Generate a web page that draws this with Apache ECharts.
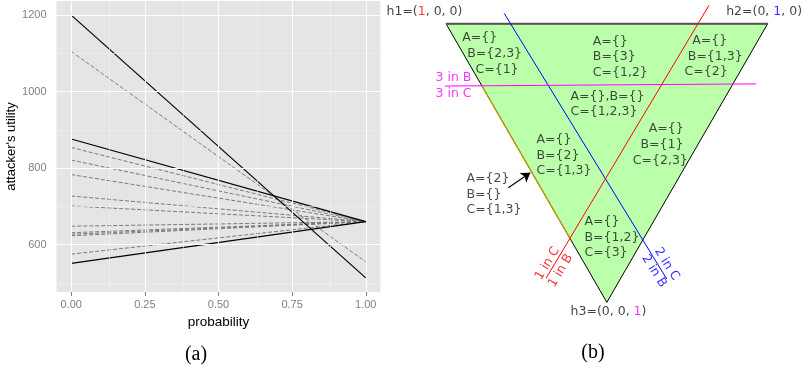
<!DOCTYPE html>
<html><head><meta charset="utf-8">
<script src="https://cdn.jsdelivr.net/npm/echarts@6/dist/echarts.min.js"></script>
<style>html,body{margin:0;padding:0;background:#fff}#c{width:803px;height:368px}</style>
</head><body><div id="c"></div>
<script>
// ---------- (a) attacker's utility vs probability ----------
const probability = [0, 1];
const solidAt0 = [1200, 876, 551];
const solidAt1 = [513, 660, 660];
const dashedAt0 = [1105, 854, 821, 783, 727, 701, 648, 631, 627, 623, 575];
const dashedAt1 = [555, 660, 660, 660, 660, 660, 660, 660, 660, 660, 660];
const xTicks = [0, 0.25, 0.5, 0.75, 1];
const xMinor = [0.125, 0.375, 0.625, 0.875];
const yTicks = [600, 800, 1000, 1200];
const yMinor = [500, 700, 900, 1100];

// ---------- (b) triangle diagram (u along h1->h2, v from h3=0 to top=1) ----------
const triangle = [[0, 1], [1, 1], [0.5, 0]];
const blueLine = [[0.181, 1.037], [0.686, 0.084]];
const redLine = [[0.8175, 1.066], [0.311, 0.086]];
const magentaLine = [[-0.029, 0.776], [0.9636, 0.784]];
const oliveEdge = [[0.112, 0.776], [0.387, 0.226]];
const arrowLine = [[0.1937, 0.411], [0.262, 0.465]];
const regionLabels = [
  [0.0488, 0.9487, 'A={}'], [0.0644, 0.8938, 'B={2,3}'], [0.0901, 0.8338, 'C={1}'],
  [0.4548, 0.9354, 'A={}'], [0.4548, 0.8815, 'B={3}'], [0.4548, 0.8241, 'C={1,2}'],
  [0.7638, 0.9379, 'A={}'], [0.7501, 0.8805, 'B={1,3}'], [0.7399, 0.8266, 'C={2}'],
  [0.3855, 0.7380, 'A={},B={}'], [0.3855, 0.6841, 'C={1,2,3}'],
  [0.6289, 0.6220, 'A={}'], [0.6030, 0.5646, 'B={1}'], [0.5791, 0.5072, 'C={2,3}'],
  [0.2798, 0.5822, 'A={}'], [0.2798, 0.5276, 'B={2}'], [0.2798, 0.4713, 'C={1,3}'],
  [0.0622, 0.4426, 'A={2}'], [0.0622, 0.3877, 'B={}'], [0.0622, 0.3338, 'C={1,3}'],
  [0.4290, 0.2893, 'A={}'], [0.4290, 0.2333, 'B={1,2}'], [0.4290, 0.1780, 'C={3}']
];
const vertexLabels = [
  [-0.1865, 1.042, 'h1=(', '1', ', 0, 0)', 'r'],
  [0.8694, 1.042, 'h2=(0, ', '1', ', 0)', 'b'],
  [0.3856, -0.0337, 'h3=(0, 0, ', '1', ')', 'm']
];
const magentaLabels = [[-0.0342, 0.8062, '3 in B'], [-0.0342, 0.7477, '3 in C']];
const redLabels = [[0.3155, 0.1393, '1 in C'], [0.3565, 0.1134, '1 in B']];
const blueLabels = [[0.6861, 0.1375, '2 in C'], [0.6466, 0.1123, '2 in B']];

const chart = echarts.init(document.getElementById('c'), null, {renderer: 'canvas'});

const SANS = 'Liberation Sans';
const DIAG = 'DejaVu Sans';
const tickGray = '#7f7f7f';

function seg(a, b) { return probability.map((p, i) => [p, i === 0 ? a : b]); }

const series = [];
series.push({
  type: 'line', xAxisIndex: 0, yAxisIndex: 0, data: [], z: 1, silent: true,
  markLine: {
    silent: true, symbol: ['none', 'none'], animation: false, label: {show: false},
    data: []
      .concat(xMinor.map(v => ({xAxis: v, lineStyle: {color: '#f2f2f2', width: 0.6, type: 'solid'}})))
      .concat(yMinor.map(v => ({yAxis: v, lineStyle: {color: '#f2f2f2', width: 0.6, type: 'solid'}})))
      .concat(xTicks.map(v => ({xAxis: v, lineStyle: {color: '#ffffff', width: 1.1, type: 'solid'}})))
      .concat(yTicks.map(v => ({yAxis: v, lineStyle: {color: '#ffffff', width: 1.1, type: 'solid'}})))
  }
});
dashedAt0.forEach((v, i) => series.push({
  type: 'line', xAxisIndex: 0, yAxisIndex: 0, data: seg(v, dashedAt1[i]), z: 3,
  showSymbol: false, symbol: 'none', silent: true,
  lineStyle: {color: '#7a7a7a', width: 1, type: [4, 2]}
}));
solidAt0.forEach((v, i) => series.push({
  type: 'line', xAxisIndex: 0, yAxisIndex: 0, data: seg(v, solidAt1[i]), z: 4,
  showSymbol: false, symbol: 'none', silent: true,
  lineStyle: {color: '#000000', width: 1.2, type: 'solid'}
}));

// ---------- diagram ----------
series.push({
  type: 'custom', xAxisIndex: 1, yAxisIndex: 1, data: [[0.5, 0.5]], z: 2, silent: true, clip: false,
  renderItem: function (params, api) {
    return {
      type: 'polygon',
      shape: {points: triangle.map(p => api.coord(p))},
      style: {fill: '#bbffaa', stroke: '#000', lineWidth: 1}
    };
  }
});
function diagLine(pts, color, width, z) {
  return {
    type: 'line', xAxisIndex: 1, yAxisIndex: 1, data: pts, z: z || 5, clip: false,
    showSymbol: false, symbol: 'none', silent: true,
    lineStyle: {color: color, width: width || 1}
  };
}
series.push(diagLine([triangle[0], triangle[1]], '#555555', 2, 4));
series.push(diagLine(oliveEdge, '#c8a000', 1.2, 4));
series.push(diagLine(blueLine, '#0000ff', 1));
series.push(diagLine(redLine, '#ff0000', 1));
series.push(diagLine(magentaLine, '#ff00ff', 1));
series.push({
  type: 'line', xAxisIndex: 1, yAxisIndex: 1, data: [], z: 6, silent: true,
  markLine: {
    silent: true, animation: false, symbol: ['none', 'arrow'], symbolSize: 9,
    label: {show: false},
    lineStyle: {color: '#000', width: 1.2, type: 'solid'},
    data: [[{coord: arrowLine[0]}, {coord: arrowLine[1]}]]
  }
});
function textSeries(list, labelOpt) {
  return {
    type: 'scatter', xAxisIndex: 1, yAxisIndex: 1, z: 8, silent: true, clip: false,
    symbolSize: 1, itemStyle: {color: 'rgba(0,0,0,0)'},
    data: list.map(d => ({value: [d[0], d[1]], name: d[2]})),
    label: Object.assign({
      show: true, position: 'right', distance: 0,
      fontFamily: DIAG, fontSize: 12.5, color: '#1a1a1a',
      formatter: p => p.name
    }, labelOpt || {})
  };
}
series.push(textSeries(regionLabels));
series.push(textSeries(magentaLabels, {color: '#ff00ff'}));
series.push(textSeries(redLabels, {color: '#ff0000', position: 'inside', rotate: 59, align: 'center', verticalAlign: 'middle'}));
series.push(textSeries(blueLabels, {color: '#0000ff', position: 'inside', rotate: -58, align: 'center', verticalAlign: 'middle'}));
series.push({
  type: 'scatter', xAxisIndex: 1, yAxisIndex: 1, z: 8, silent: true, clip: false,
  symbolSize: 1, itemStyle: {color: 'rgba(0,0,0,0)'},
  data: vertexLabels.map(d => ({value: [d[0], d[1]], name: d[2] + '{' + d[5] + '|' + d[3] + '}' + d[4]})),
  label: {
    show: true, position: 'right', distance: 0,
    fontFamily: DIAG, fontSize: 12.5, color: '#111',
    formatter: p => p.name,
    rich: {
      r: {color: '#ff0000', fontFamily: DIAG, fontSize: 12.5},
      b: {color: '#0000ff', fontFamily: DIAG, fontSize: 12.5},
      m: {color: '#ff00ff', fontFamily: DIAG, fontSize: 12.5}
    }
  }
});

const option = {
  animation: false,
  backgroundColor: '#ffffff',
  grid: [
    {left: 56.5, top: 1, width: 324, height: 291, show: true, backgroundColor: '#e5e5e5', borderWidth: 0, containLabel: false, outerBoundsMode: 'none'},
    {left: 446, top: 23.7, width: 321.7, height: 278.6, show: false, containLabel: false, outerBoundsMode: 'none'}
  ],
  xAxis: [
    {
      type: 'value', gridIndex: 0, min: -0.05, max: 1.05,
      name: 'probability', nameLocation: 'middle', nameGap: 17,
      nameTextStyle: {fontFamily: SANS, fontSize: 13.5, color: '#000'},
      axisLine: {show: false},
      axisTick: {show: true, length: 4, lineStyle: {color: tickGray, width: 1}, customValues: xTicks},
      axisLabel: {show: true, customValues: xTicks, margin: 7, fontFamily: SANS, fontSize: 11, color: tickGray,
        formatter: v => v.toFixed(2)},
      splitLine: {show: false}
    },
    {type: 'value', gridIndex: 1, min: 0, max: 1, show: false}
  ],
  yAxis: [
    {
      type: 'value', gridIndex: 0, min: 476, max: 1237,
      name: "attacker's utility", nameLocation: 'middle', nameGap: 30,
      nameTextStyle: {fontFamily: SANS, fontSize: 13, color: '#000'},
      axisLine: {show: false},
      axisTick: {show: true, length: 4, lineStyle: {color: tickGray, width: 1}, customValues: yTicks},
      axisLabel: {show: true, customValues: yTicks, margin: 10, fontFamily: SANS, fontSize: 11, color: tickGray,
        formatter: v => String(v)},
      splitLine: {show: false}
    },
    {type: 'value', gridIndex: 1, min: 0, max: 1, show: false}
  ],
  graphic: [
    {type: 'text', x: 196, y: 355, style: {text: '(a)', font: '20px "Liberation Serif"', fill: '#000', textAlign: 'center', textVerticalAlign: 'middle'}},
    {type: 'text', x: 593, y: 353, style: {text: '(b)', font: '20px "Liberation Serif"', fill: '#000', textAlign: 'center', textVerticalAlign: 'middle'}}
  ],
  series: series
};
chart.setOption(option);
</script></body></html>
